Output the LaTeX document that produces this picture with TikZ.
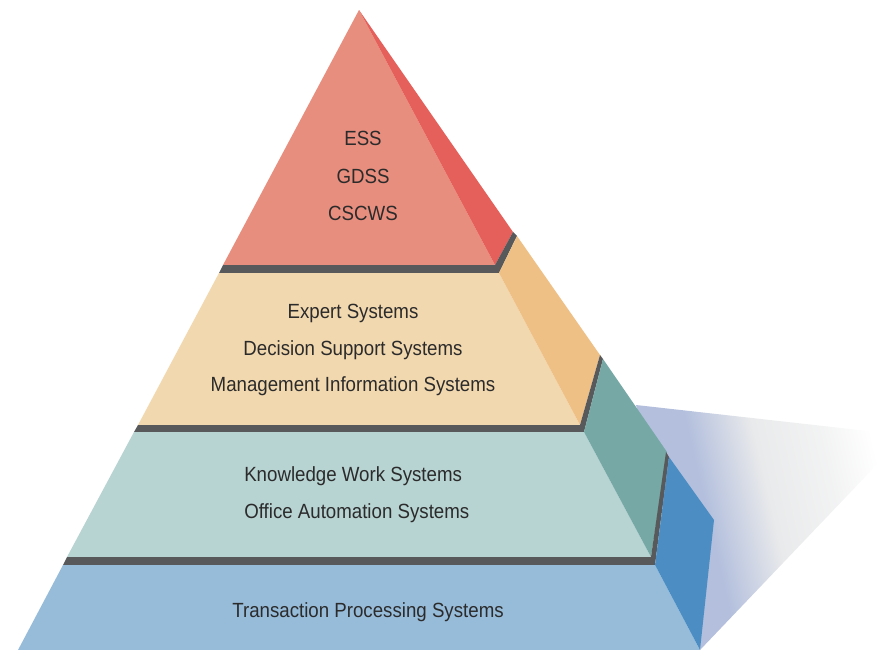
\documentclass[tikz,border=0pt]{standalone}
\usepackage{fontspec}
\setmainfont{Liberation Sans}[FakeStretch=0.91]
\definecolor{redF}{HTML}{E88E7E}
\definecolor{redS}{HTML}{E5605A}
\definecolor{orgF}{HTML}{F2D8AF}
\definecolor{orgS}{HTML}{EFC086}
\definecolor{tealF}{HTML}{B7D3D2}
\definecolor{tealS}{HTML}{76A9A6}
\definecolor{bluF}{HTML}{97BCDA}
\definecolor{bluS}{HTML}{4C8EC3}
\definecolor{bandC}{HTML}{58595B}
\definecolor{txtC}{HTML}{2B2B2B}
\definecolor{shB}{HTML}{B3BFDD}
\definecolor{shG}{HTML}{E9EAEB}
\pgfdeclarehorizontalshading{shadowfade}{100bp}{color(0bp)=(shB); color(25bp)=(shB); color(40bp)=(shB); color(53bp)=(shG); color(66bp)=(shG!60!white); color(76bp)=(white); color(100bp)=(white)}
\begin{document}
\begin{tikzpicture}[x=0.75pt,y=-0.75pt,
  lbl/.style={font=\fontsize{15.4pt}{18pt}\selectfont, text=txtC, inner sep=0pt, anchor=base},
  lblw/.style={lbl, anchor=base west}]
\useasboundingbox (0,0) rectangle (886,650);
% shadow
\shade[shading=shadowfade, shading angle=13] (636,405) -- (886,433) -- (886,455) -- (700,650) -- cycle;
% red layer
\fill[redF] (359,10) -- (495,265) -- (223,265) -- cycle;
\fill[redS] (359,10) -- (513,232) -- (495,265) -- cycle;
% band 1
\fill[bandC] (223,265) -- (495,265) -- (513,232) -- (517,236) -- (499,273) -- (219,273) -- cycle;
% orange layer
\fill[orgF] (219,273) -- (499,273) -- (580,425) -- (138,425) -- cycle;
\fill[orgS] (499,273) -- (517,236) -- (600,355) -- (580,425) -- cycle;
% band 2
\fill[bandC] (138,425) -- (580,425) -- (600,355) -- (603,359) -- (584,432) -- (134,432) -- cycle;
% teal layer
\fill[tealF] (134,432) -- (584,432) -- (651,557) -- (67,557) -- cycle;
\fill[tealS] (584,432) -- (603,359) -- (667,452) -- (651,557) -- cycle;
% band 3
\fill[bandC] (67,557) -- (651,557) -- (666,452) -- (669,457) -- (655,565) -- (63,565) -- cycle;
% blue layer
\fill[bluF] (63,565) -- (655,565) -- (700,650) -- (18,650) -- cycle;
\fill[bluS] (655,565) -- (669,457) -- (714,520) -- (700,650) -- cycle;
% texts
\node[lbl] (ess) at (363,145.7) {ESS};
\node[lbl] (gdss) at (363,183.3) {GDSS};
\node[lbl] (cscws) at (363,220) {CSCWS};
\node[lbl] (exp) at (353,318.3) {Expert Systems};
\node[lbl] (dss) at (353,355) {Decision Support Systems};
\node[lbl] (mis) at (353,391.7) {Management Information Systems};
\node[lblw] (kws) at (244,481.7) {Knowledge Work Systems};
\node[lblw] (oas) at (244,518.3) {Office Automation Systems};
\node[lbl] (tps) at (368,617.3) {Transaction Processing Systems};
\end{tikzpicture}
\end{document}
